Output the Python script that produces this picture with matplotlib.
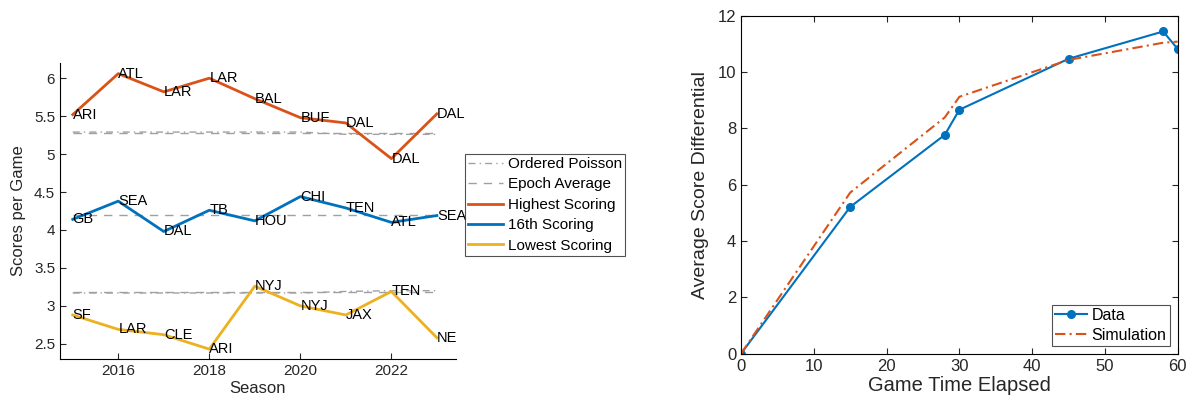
import matplotlib
matplotlib.use('Agg')
import matplotlib.pyplot as plt

plt.rcParams['font.family'] = ['Liberation Sans', 'DejaVu Sans']

# left panel data
seasons = [2015, 2016, 2017, 2018, 2019, 2020, 2021, 2022, 2023]
high = [5.52, 6.06, 5.82, 6.00, 5.73, 5.48, 5.41, 4.94, 5.53]
high_teams = ['ARI', 'ATL', 'LAR', 'LAR', 'BAL', 'BUF', 'DAL', 'DAL', 'DAL']
mid = [4.14, 4.38, 3.98, 4.26, 4.12, 4.44, 4.29, 4.10, 4.19]
mid_teams = ['GB', 'SEA', 'DAL', 'TB', 'HOU', 'CHI', 'TEN', 'ATL', 'SEA']
low = [2.88, 2.69, 2.62, 2.43, 3.26, 3.00, 2.88, 3.19, 2.58]
low_teams = ['SF', 'LAR', 'CLE', 'ARI', 'NYJ', 'NYJ', 'JAX', 'TEN', 'NE']

poisson_high = [5.29, 5.29, 5.29, 5.29, 5.29, 5.29, 5.26, 5.26, 5.26]
poisson_low = [3.17, 3.17, 3.17, 3.17, 3.17, 3.17, 3.19, 3.20, 3.20]
epoch_high = [5.28] * 9
epoch_mid = [4.20] * 9
epoch_low = [3.18] * 9

# right panel data
t_data = [0, 15, 28, 30, 45, 58, 60]
diff_data = [0, 5.21, 7.77, 8.66, 10.47, 11.44, 10.82]
t_sim = [0, 15, 28, 30, 45, 58, 60]
diff_sim = [0, 5.72, 8.39, 9.12, 10.43, 11.04, 11.08]

orange = '#D95319'
blue = '#0072BD'
yellow = '#EDB120'
gray = '#A0A0A0'
txt = '#262626'
dashdot = (5, 3, 1, 3)
dashed = (6, 5)

W, H = 1190, 407
fig = plt.figure(figsize=(W / 100, H / 100), dpi=100)

ax1 = fig.add_axes([60 / W, 1 - 359 / H, 396 / W, 296 / H])
ax1.plot(seasons, poisson_high, color=gray, lw=1, dashes=dashdot, label='Ordered Poisson')
ax1.plot(seasons, epoch_high, color=gray, lw=1, dashes=dashed, label='Epoch Average')
ax1.plot(seasons, high, '-', color=orange, lw=2, label='Highest Scoring')
ax1.plot(seasons, mid, '-', color=blue, lw=2, label='16th Scoring')
ax1.plot(seasons, low, '-', color=yellow, lw=2, label='Lowest Scoring')
ax1.plot(seasons, epoch_mid, color=gray, lw=1, dashes=dashed, zorder=1)
ax1.plot(seasons, epoch_low, color=gray, lw=1, dashes=dashed, zorder=1)
ax1.plot(seasons, poisson_low, color=gray, lw=1, dashes=dashdot, zorder=1)
for vals, teams in [(high, high_teams), (mid, mid_teams), (low, low_teams)]:
    for s, v, tm in zip(seasons, vals, teams):
        ax1.text(s, v, tm, ha='left', va='center', fontsize=10.5, color='black')

ax1.set_xlim(2014.72, 2023.42)
ax1.set_ylim(2.3, 6.2)
ax1.set_xticks([2016, 2018, 2020, 2022])
ax1.set_yticks([2.5, 3, 3.5, 4, 4.5, 5, 5.5, 6])
ax1.set_yticklabels(['2.5', '3', '3.5', '4', '4.5', '5', '5.5', '6'])
ax1.spines['top'].set_visible(False)
ax1.spines['right'].set_visible(False)
ax1.tick_params(direction='in', labelsize=11, colors=txt, length=4)
ax1.set_xlabel('Season', fontsize=12, color=txt, labelpad=2)
ax1.set_ylabel('Scores per Game', fontsize=12, color=txt, labelpad=6)
leg1 = ax1.legend(loc='upper left', bbox_to_anchor=(465 / W, 1 - 154 / H),
                  bbox_transform=fig.transFigure, fontsize=11, frameon=True,
                  fancybox=False, borderpad=0.2, labelspacing=0.42,
                  handlelength=2.3, handletextpad=0.3, borderaxespad=0)
leg1.get_frame().set_edgecolor('#262626')
leg1.get_frame().set_linewidth(0.8)

ax2 = fig.add_axes([741 / W, 1 - 353.7 / H, 436.7 / W, 338 / H])
ax2.plot(t_data, diff_data, '-o', color=blue, lw=1.5, ms=5.5, label='Data')
ax2.plot(t_sim, diff_sim, color=orange, lw=1.5, dashes=(5, 2, 1, 2), label='Simulation')
ax2.set_xlim(0, 60)
ax2.set_ylim(0, 12)
ax2.set_xticks(range(0, 61, 10))
ax2.set_yticks(range(0, 13, 2))
ax2.tick_params(direction='in', labelsize=12, colors=txt, length=4,
                top=True, right=True)
ax2.set_xlabel('Game Time Elapsed', fontsize=14.5, color=txt, labelpad=2)
ax2.set_ylabel('Average Score Differential', fontsize=14, color=txt, labelpad=6)
leg2 = ax2.legend(loc='lower right', fontsize=11.5, fancybox=False,
                  borderpad=0.2, labelspacing=0.3, handlelength=2.0,
                  handletextpad=0.3, borderaxespad=0.5)
leg2.get_frame().set_edgecolor('#262626')
leg2.get_frame().set_linewidth(0.8)

fig.savefig('out.png', dpi=100)
